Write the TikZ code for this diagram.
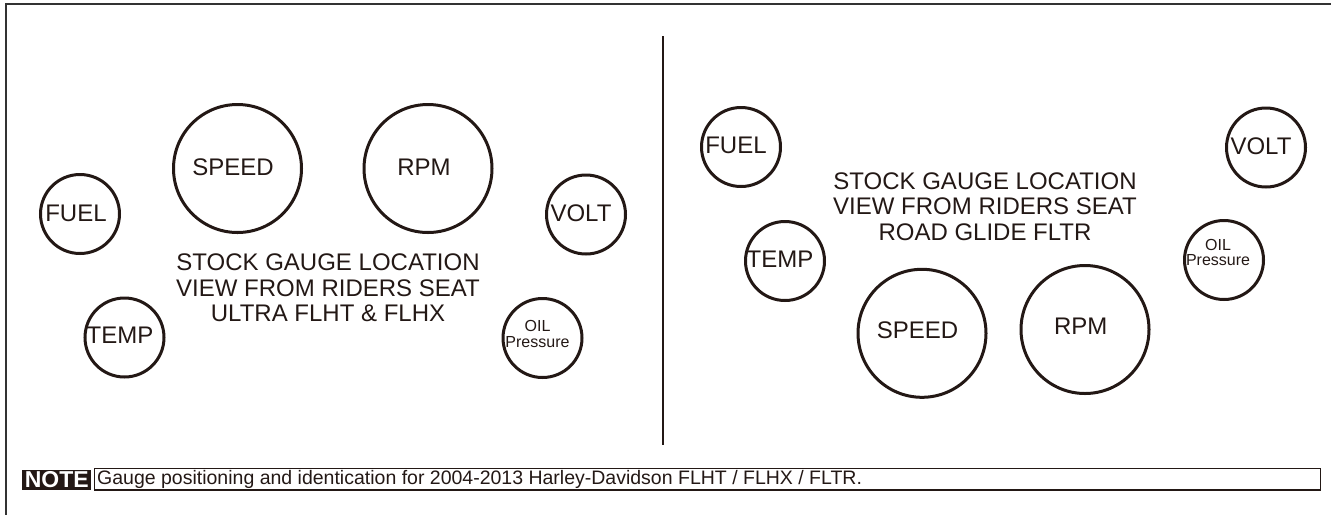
\documentclass[tikz,border=0pt]{standalone}
\usepackage{fontspec}
\setmainfont{Liberation Sans}
\definecolor{ink}{HTML}{231815}
\begin{document}
\begin{tikzpicture}[x=1pt,y=-1pt,
  gauge/.style={circle, draw=ink, line width=3pt, inner sep=0pt, minimum size=#1},
  lbl/.style={text=ink, font=\fontsize{24}{25}\selectfont, inner sep=0pt},
  small/.style={text=ink, font=\fontsize{16}{15.5}\selectfont, inner sep=0pt, align=center},
  title/.style={text=ink, font=\fontsize{24}{25.3}\selectfont, align=center, inner sep=0pt},
  frame/.style={draw=black!80, line width=1.5pt}]
\useasboundingbox (0,0) rectangle (1331,515);
% frame
\draw[frame] (1331,4) -- (6,4) -- (6,515);
% divider
\draw[draw=ink, line width=1.5pt] (663,36) -- (663,445);

% ---- left panel: Ultra FLHT & FLHX
\node[gauge=79]  (lfuel)  at (80,214) {};
\node[gauge=128] (lspeed) at (237.5,168.5) {};
\node[gauge=128] (lrpm)   at (428,168.5) {};
\node[gauge=79]  (lvolt)  at (586,214.5) {};
\node[gauge=79]  (ltemp)  at (124.5,337.5) {};
\node[gauge=79]  (loil)   at (542.5,338) {};
\node[lbl] (lfuelt)  at (76,213) {FUEL};
\node[lbl] (lspeedt) at (233,167) {SPEED};
\node[lbl] (lrpmt)   at (424,167) {RPM};
\node[lbl] (lvoltt)  at (581,213) {VOLT};
\node[lbl] (ltempt)  at (120,335) {TEMP};
\node[small] (loilt) at (537.5,334) {OIL\\Pressure};
\node[title] (ltitle) at (328,288) {STOCK GAUGE LOCATION\\VIEW FROM RIDERS SEAT\\ULTRA FLHT \& FLHX};

% ---- right panel: Road Glide FLTR
\node[gauge=79]  (rfuel)  at (741,147) {};
\node[gauge=79]  (rvolt)  at (1266,147.5) {};
\node[gauge=79]  (rtemp)  at (785,261) {};
\node[gauge=79]  (roil)   at (1224,260) {};
\node[gauge=128] (rspeed) at (922,333.3) {};
\node[gauge=128] (rrpm)   at (1085,329.5) {};
\node[lbl] (rfuelt)  at (736,145) {FUEL};
\node[lbl] (rvoltt)  at (1261,146) {VOLT};
\node[lbl] (rtempt)  at (780,259) {TEMP};
\node[small] (roilt) at (1218,252.5) {OIL\\Pressure};
\node[lbl] (rspeedt) at (917.5,330.7) {SPEED};
\node[lbl] (rrpmt)   at (1080.7,326.7) {RPM};
\node[title] (rtitle) at (985,206.7) {STOCK GAUGE LOCATION\\VIEW FROM RIDERS SEAT\\ROAD GLIDE FLTR};

% ---- note bar
\node[fill=ink, text=white, font=\fontsize{23}{23}\bfseries, inner sep=0pt,
      minimum width=69, minimum height=20, anchor=west] (note) at (22,480) {NOTE};
\node[draw=ink, line width=1.2pt, inner sep=0pt, minimum height=21.5,
      minimum width=1226, anchor=west] (notebox) at (94,479.2) {};
\node[text=ink, font=\fontsize{19.5}{19.5}\selectfont, inner sep=0pt, anchor=west]
      (notetext) at (97,479.5) {Gauge positioning and identication for 2004-2013 Harley-Davidson FLHT / FLHX / FLTR.};
\end{tikzpicture}
\end{document}
